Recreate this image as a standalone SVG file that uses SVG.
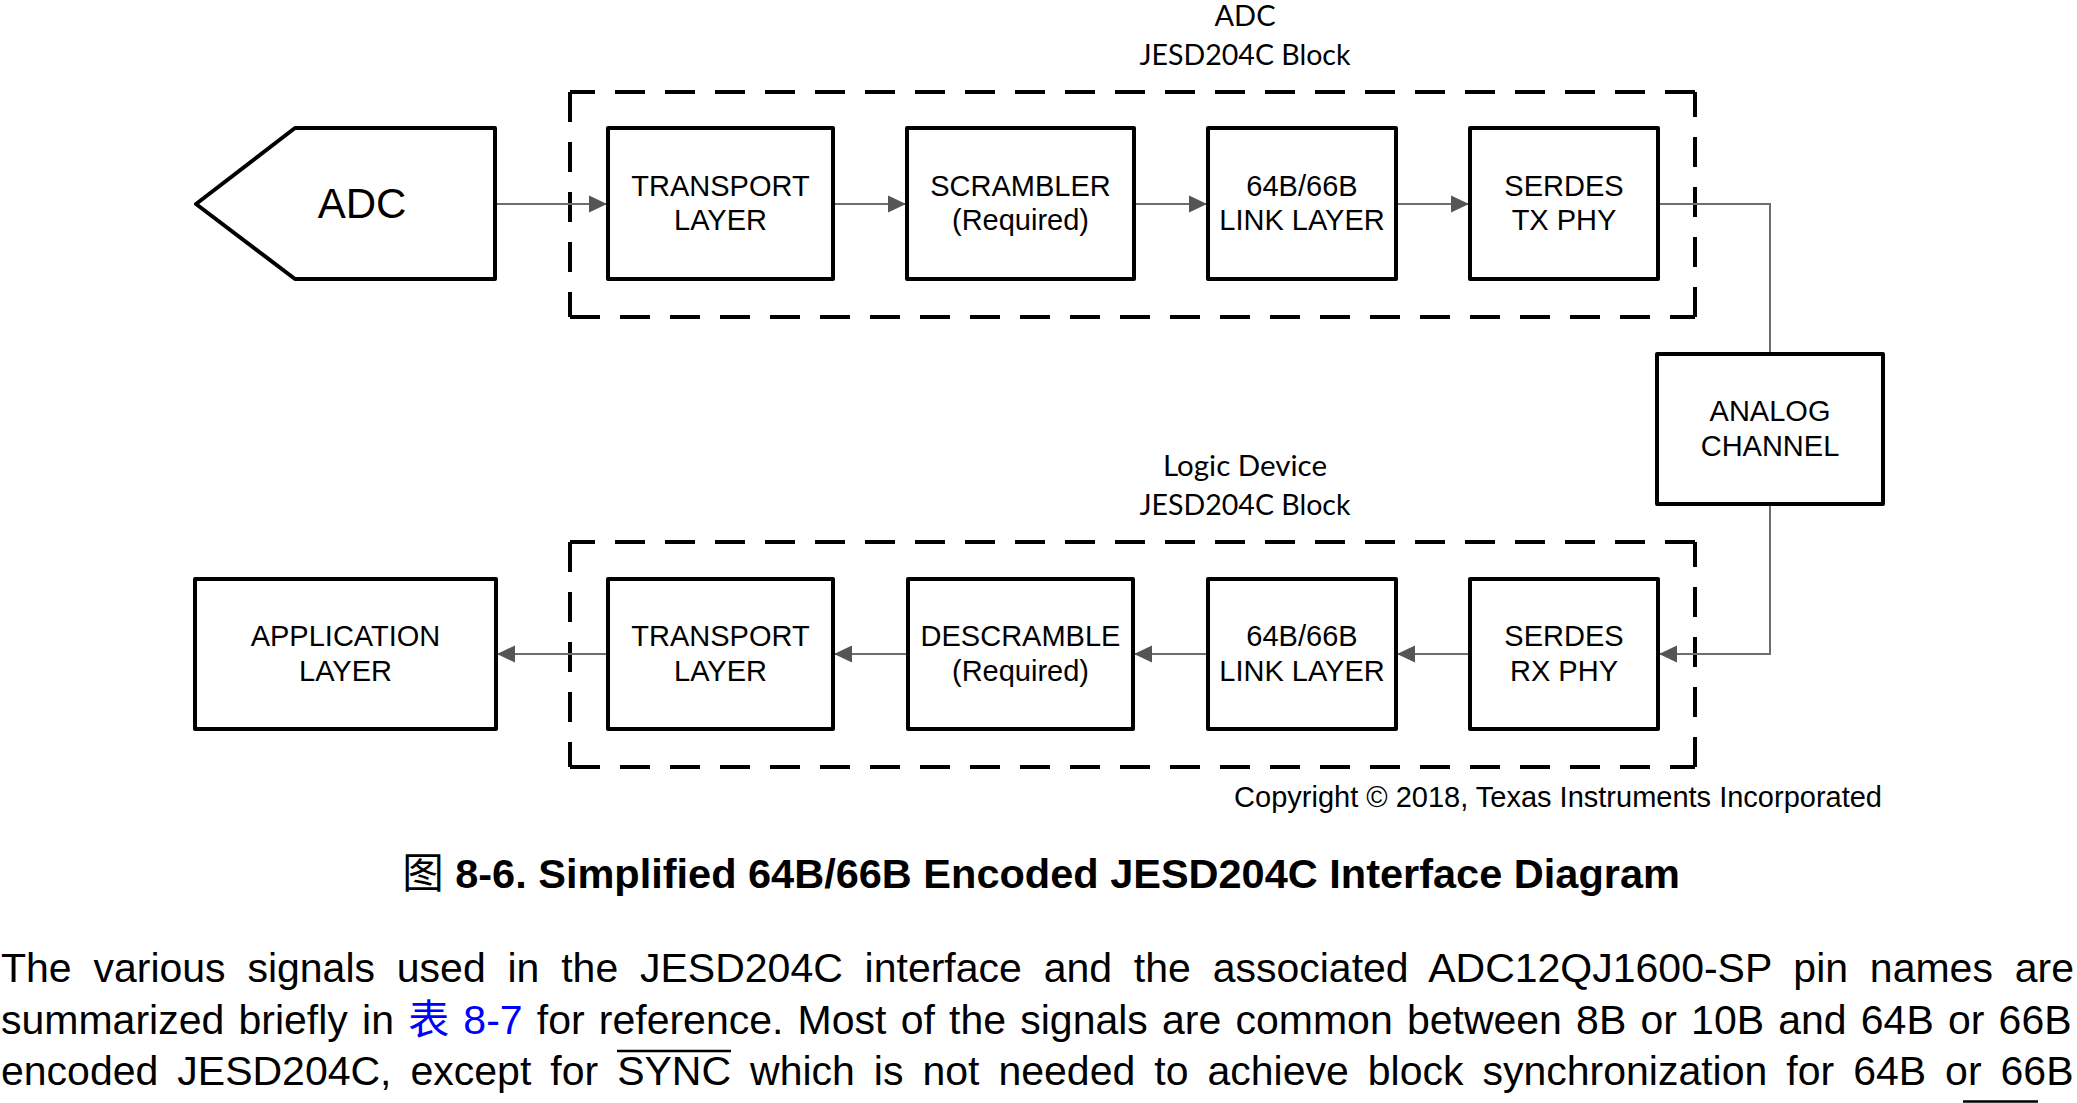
<svg xmlns="http://www.w3.org/2000/svg" width="2077" height="1103" viewBox="0 0 2077 1103">
<style>
.box{fill:#fff;stroke:#000;stroke-width:4;stroke-linejoin:round}
.dash{fill:none;stroke:#000;stroke-width:4;stroke-dasharray:30 20;stroke-dashoffset:5}
.t{font-family:"Liberation Sans",Arial,sans-serif;font-size:29px;fill:#000;text-anchor:middle}
.lbl{font-family:Lato,"Open Sans",sans-serif;font-size:29px;fill:#000;text-anchor:middle}
.con{fill:none;stroke:#6e6e6e;stroke-width:2}
.body{font-family:"Liberation Sans",Arial,"Noto Sans CJK SC",sans-serif;font-size:41px;fill:#000}
</style>
<defs>
<marker id="ah" markerWidth="18" markerHeight="18" refX="18" refY="9" orient="auto" markerUnits="userSpaceOnUse" viewBox="0 0 18 18">
<path d="M0,0.5 L18,9 L0,17.5 Z" fill="#555"/>
</marker>
</defs>

<g id="adc-block-frame">
<path class="dash" d="M570,92 H1695"/>
<path class="dash" d="M1695,92 V317"/>
<path class="dash" d="M1695,317 H570"/>
<path class="dash" d="M570,317 V92"/>
<text class="lbl" x="1245" y="26">ADC</text>
<text class="lbl" x="1245" y="65" textLength="211" lengthAdjust="spacingAndGlyphs">JESD204C Block</text>
</g>

<g id="logic-block-frame">
<path class="dash" d="M570,542 H1695"/>
<path class="dash" d="M1695,542 V767"/>
<path class="dash" d="M1695,767 H570"/>
<path class="dash" d="M570,767 V542"/>
<text class="lbl" x="1245" y="476" textLength="164" lengthAdjust="spacingAndGlyphs">Logic Device</text>
<text class="lbl" x="1245" y="515" textLength="211" lengthAdjust="spacingAndGlyphs">JESD204C Block</text>
</g>

<g id="connectors">
<path class="con" d="M495,204 H607" marker-end="url(#ah)"/>
<path class="con" d="M833,204 H906" marker-end="url(#ah)"/>
<path class="con" d="M1134,204 H1207" marker-end="url(#ah)"/>
<path class="con" d="M1396,204 H1469" marker-end="url(#ah)"/>
<path class="con" d="M1658,204 H1770 V354"/>
<path class="con" d="M1770,504 V654 H1659" marker-end="url(#ah)"/>
<path class="con" d="M1470,654 H1397" marker-end="url(#ah)"/>
<path class="con" d="M1208,654 H1134" marker-end="url(#ah)"/>
<path class="con" d="M908,654 H834" marker-end="url(#ah)"/>
<path class="con" d="M608,654 H497" marker-end="url(#ah)"/>
</g>

<g id="adc">
<polygon class="box" points="196,204 295,128 495,128 495,279 295,279"/>
<text class="t" x="362" y="218" style="font-size:42px">ADC</text>
</g>

<g id="tx-transport">
<rect class="box" x="608" y="128" width="225" height="151"/>
<text class="t" x="720.5" y="196">TRANSPORT</text>
<text class="t" x="720.5" y="230">LAYER</text>
</g>
<g id="scrambler">
<rect class="box" x="907" y="128" width="227" height="151"/>
<text class="t" x="1020.5" y="196">SCRAMBLER</text>
<text class="t" x="1020.5" y="230">(Required)</text>
</g>
<g id="tx-link">
<rect class="box" x="1208" y="128" width="188" height="151"/>
<text class="t" x="1302" y="196">64B/66B</text>
<text class="t" x="1302" y="230">LINK LAYER</text>
</g>
<g id="serdes-tx">
<rect class="box" x="1470" y="128" width="188" height="151"/>
<text class="t" x="1564" y="196">SERDES</text>
<text class="t" x="1564" y="230">TX PHY</text>
</g>

<g id="analog-channel">
<rect class="box" x="1657" y="354" width="226" height="150"/>
<text class="t" x="1770" y="421">ANALOG</text>
<text class="t" x="1770" y="456">CHANNEL</text>
</g>

<g id="application">
<rect class="box" x="195" y="579" width="301" height="150"/>
<text class="t" x="345.5" y="646">APPLICATION</text>
<text class="t" x="345.5" y="681">LAYER</text>
</g>
<g id="rx-transport">
<rect class="box" x="608" y="579" width="225" height="150"/>
<text class="t" x="720.5" y="646">TRANSPORT</text>
<text class="t" x="720.5" y="681">LAYER</text>
</g>
<g id="descramble">
<rect class="box" x="908" y="579" width="225" height="150"/>
<text class="t" x="1020.5" y="646">DESCRAMBLE</text>
<text class="t" x="1020.5" y="681">(Required)</text>
</g>
<g id="rx-link">
<rect class="box" x="1208" y="579" width="188" height="150"/>
<text class="t" x="1302" y="646">64B/66B</text>
<text class="t" x="1302" y="681">LINK LAYER</text>
</g>
<g id="serdes-rx">
<rect class="box" x="1470" y="579" width="188" height="150"/>
<text class="t" x="1564" y="646">SERDES</text>
<text class="t" x="1564" y="681">RX PHY</text>
</g>

<g id="copyright">
<text x="1882" y="807" style="font-family:'Liberation Sans',Arial,sans-serif;font-size:29px;fill:#000;text-anchor:end">Copyright © 2018, Texas Instruments Incorporated</text>
</g>

<g id="caption">
<text x="1041" y="888" style="font-family:'Liberation Sans',Arial,'Noto Sans CJK SC',sans-serif;font-size:41.5px;font-weight:bold;fill:#000;text-anchor:middle"><tspan style="font-family:'Noto Sans CJK SC',sans-serif;font-weight:normal">图</tspan> 8-6. Simplified 64B/66B Encoded JESD204C Interface Diagram</text>
</g>

<g id="body-text">
<text class="body" x="1" y="982" style="word-spacing:10.4px">The various signals used in the JESD204C interface and the associated ADC12QJ1600-SP pin names are</text>
<text class="body" x="1" y="1034" style="word-spacing:2.8px">summarized briefly in <tspan fill="#0000ff"><tspan style="font-family:'Noto Sans CJK SC',sans-serif">表</tspan> 8-7</tspan> for reference. Most of the signals are common between 8B or 10B and 64B or 66B</text>
<text class="body" x="1" y="1085" style="word-spacing:7.6px">encoded JESD204C, except for SYNC which is not needed to achieve block synchronization for 64B or 66B</text>
<line x1="617" y1="1051" x2="731" y2="1051" stroke="#000" stroke-width="2.5"/>
<line x1="1963" y1="1101.5" x2="2038" y2="1101.5" stroke="#000" stroke-width="2.5"/>
</g>
</svg>
